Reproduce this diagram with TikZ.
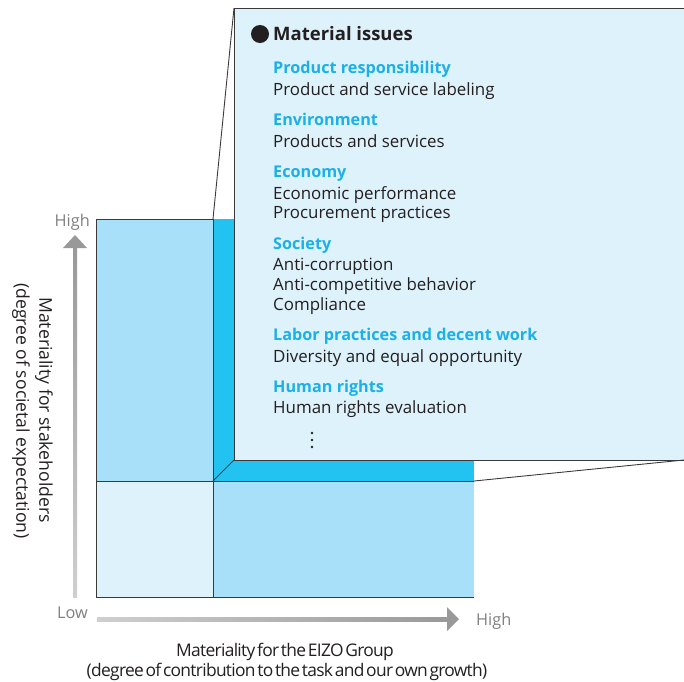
\documentclass[tikz,border=0pt]{standalone}
\usepackage{fontspec}
\setmainfont{Open Sans}
\newfontfamily\condfont[LetterSpace=-4, WordSpace=0.45]{Open Sans}
\definecolor{panelfill}{HTML}{DEF2FB}
\definecolor{lightblue}{HTML}{A8DFF9}
\definecolor{cyanfill}{HTML}{22C3F0}
\definecolor{headcyan}{HTML}{1BB0E8}
\definecolor{textdark}{HTML}{231F20}
\definecolor{edge}{HTML}{3A3A3A}
\definecolor{axisdark}{HTML}{999999}
\definecolor{axislight}{HTML}{CFCFCF}
\definecolor{labelgray}{HTML}{7F7F7F}
\tikzset{
  item/.style={anchor=base west, inner sep=0pt, text=textdark, font=\fontsize{16.9}{18}\selectfont},
  head/.style={anchor=base west, inner sep=0pt, text=headcyan, font=\fontsize{16.2}{18}\selectfont\bfseries},
  axlabel/.style={inner sep=0pt, text=labelgray, font=\fontsize{16.3}{18}\selectfont},
  ytitle/.style={inner sep=0pt, text=textdark, font=\fontsize{17.6}{18}\selectfont, rotate=-90},
  xtitle/.style={anchor=base, inner sep=0pt, text=textdark, font=\condfont\fontsize{17.4}{18}\selectfont},
  bord/.style={draw=edge, line width=0.9pt},
}
\begin{document}
\begin{tikzpicture}[x=1pt,y=-1pt]
\useasboundingbox (0,0) rectangle (684,681);
% grid cells
\fill[lightblue] (96,219) rectangle (213,481);
\fill[panelfill] (96,481) rectangle (213,597);
\fill[lightblue] (213,481) rectangle (474,597);
\fill[cyanfill] (213,219) rectangle (474,481);
% grid lines
\draw[bord] (213,219) -- (96,219) -- (96,597) -- (474,597);
\draw[bord] (96,481) -- (474,481);
\draw[bord] (213,219) -- (213,597);
% panel
\fill[panelfill] (234,8) rectangle (684,460);
\draw[bord] (684,8) -- (234,8) -- (234,460) -- (684,460);
% projection lines
\draw[bord] (213,219) -- (234,8);
\draw[bord] (474,481) -- (684,460);
\draw[bord] (213,481) -- (234,460);
% panel contents
\fill[textdark] (260,34) circle (9);
\node[anchor=base west, inner sep=0pt, text=textdark, font=\fontsize{18.5}{22}\selectfont\bfseries] (title) at (273,40) {Material issues};
\node[head] (h1) at (273,73) {Product responsibility};
\node[item] (i1) at (273,95) {Product and service labeling};
\node[head] (h2) at (273,125) {Environment};
\node[item] (i2) at (273,147) {Products and services};
\node[head] (h3) at (273,177) {Economy};
\node[item] (i3a) at (273,199) {Economic performance};
\node[item] (i3b) at (273,218) {Procurement practices};
\node[head] (h4) at (273,249) {Society};
\node[item] (i4a) at (273,270) {Anti-corruption};
\node[item] (i4b) at (273,290) {Anti-competitive behavior};
\node[item] (i4c) at (273,310) {Compliance};
\node[head] (h5) at (273,340) {Labor practices and decent work};
\node[item] (i5) at (273,362) {Diversity and equal opportunity};
\node[head] (h6) at (273,392) {Human rights};
\node[item] (i6) at (273,413) {Human rights evaluation};
\fill[textdark] (312,433) circle (1.3) (312,440) circle (1.3) (312,447) circle (1.3);
% axes
\shade[bottom color=axislight, top color=axisdark] (73,597) rectangle (77,247);
\fill[axisdark] (63,248) -- (75,235) -- (87,248) -- cycle;
\shade[left color=axislight, right color=axisdark] (97,617) rectangle (448,621);
\fill[axisdark] (447,607) -- (459,619) -- (447,631) -- cycle;
\node[axlabel, anchor=base east] (yhigh) at (90,226) {High};
\node[axlabel, anchor=base east] (ylow) at (88,618) {Low};
\node[axlabel, anchor=base west] (xhigh) at (476,625) {High};
% axis titles
\node[ytitle] (yt1) at (44,410) {Materiality for stakeholders};
\node[ytitle] (yt2) at (21,411) {(degree of societal expectation)};
\node[xtitle] (xt1) at (285,656) {Materiality for the EIZO Group};
\node[xtitle] (xt2) at (287,676) {(degree of contribution to the task and our own growth)};
\end{tikzpicture}
\end{document}
